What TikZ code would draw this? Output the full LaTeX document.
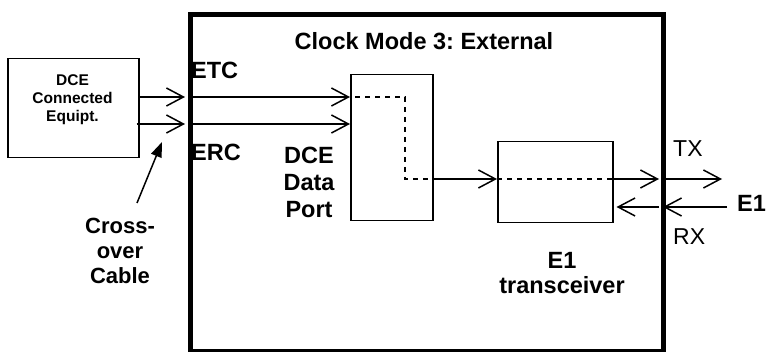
\documentclass[tikz,border=0pt]{standalone}
\usepackage{fontspec}
\setmainfont{Liberation Sans}
\usetikzlibrary{arrows.meta}
\frenchspacing
\begin{document}
\begin{tikzpicture}[x=1pt,y=-1pt,
  thin box/.style={draw,line width=1.5pt,inner sep=0pt},
  wire/.style={line width=1.5pt},
  barb/.style={wire,-{Straight Barb[length=17pt,width=18pt,line width=1.5pt]}},
  dashline/.style={wire,dash pattern=on 5pt off 5pt},
  bigbold/.style={font={\fontsize{23.5}{27}\selectfont\bfseries},inner sep=0pt},
  bigreg/.style={font={\fontsize{23}{27}\selectfont},inner sep=0pt},
]
\useasboundingbox (0,0) rectangle (767,352);
% outer unit
\node[draw,line width=5pt,minimum width=473.5pt,minimum height=336.5pt,inner sep=0pt,anchor=north west] (unit) at (187.5,12.5) {};
% boxes
\node[thin box,minimum width=131pt,minimum height=99pt,anchor=north west] (dce) at (7,58) {};
\node[font={\fontsize{15.5}{18}\selectfont\bfseries},align=center,inner sep=0pt,anchor=north] (dcetext) at (72.5,74) {DCE\\Connected\\Equipt.};
\node[thin box,minimum width=82pt,minimum height=146pt,anchor=north west] (port) at (350,74) {};
\node[thin box,minimum width=115pt,minimum height=81pt,anchor=north west] (e1) at (497,141) {};
% labels
\node[bigbold,anchor=base] (title) at (424,50) {Clock Mode 3: External};
\node[bigbold,anchor=base west] (etc) at (191,79) {ETC};
\node[bigbold,anchor=base west] (erc) at (191,161) {ERC};
\node[bigbold,align=center,anchor=north] (portlbl) at (309,147) {DCE\\Data\\Port};
\node[font={\fontsize{22}{25}\selectfont\bfseries},align=center,inner sep=0pt,anchor=north] (cross) at (120,218) {Cross-\\over\\Cable};
\node[bigbold,align=center,anchor=north,font={\fontsize{23.5}{25}\selectfont\bfseries}] (e1lbl) at (562,252) {E1\\transceiver};
\node[bigreg,anchor=base west] (tx) at (673,157) {TX};
\node[bigreg,anchor=base west] (rx) at (673,245) {RX};
\node[bigbold,anchor=base west] (e1ext) at (737,212) {E1};
% coordinates on the border and free ends
\coordinate (etcB) at (185,97);
\coordinate (ercB) at (185,124);
\coordinate (etcIn) at (188,97);
\coordinate (ercIn) at (188,124);
\coordinate (txB) at (659,179);
\coordinate (txOut) at (663,179);
\coordinate (txEnd) at (722,179);
\coordinate (rxEnd) at (727,207);
\coordinate (rxB) at (663,207);
\coordinate (rxIn) at (659,207);
\coordinate (bend1) at (405,97);
\coordinate (bend2) at (405,179);
\coordinate (crossTail) at (137,203);
\coordinate (crossTip) at (162,142);
% ETC / ERC
\draw[barb] (dce.east |- etcB) -- (etcB);
\draw[barb] (etcIn) -- (port.west |- etcB);
\draw[barb] ([xshift=-3pt]dce.east |- ercB) -- (ercB);
\draw[barb] (ercIn) -- (port.west |- ercB);
% internal dashed path
\draw[dashline] ([xshift=5pt]port.west |- etcB) -- (bend1) -- (bend2) -- (port.east |- bend2);
\draw[barb] (port.east |- bend2) -- (e1.west |- bend2);
\draw[dashline] (e1.west |- bend2) -- (e1.east |- bend2);
\draw[barb] (e1.east |- bend2) -- (txB);
\draw[barb] (txOut) -- (txEnd);
% RX
\draw[barb] (rxEnd) -- (rxB);
\draw[barb] (rxIn) -- ([xshift=3pt]e1.east |- rxB);
% cross-over pointer
\draw[wire,-{Triangle[length=15pt,width=11pt]}] (crossTail) -- (crossTip);
\end{tikzpicture}
\end{document}
